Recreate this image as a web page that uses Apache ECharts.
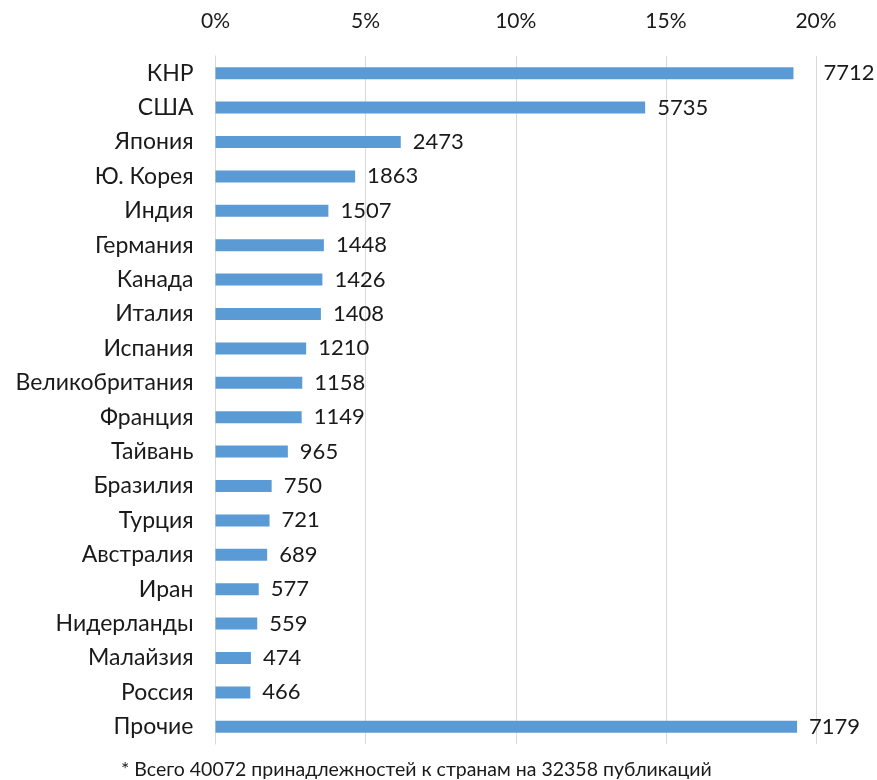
<!DOCTYPE html>
<html>
<head>
<meta charset="utf-8">
<script src="https://cdn.jsdelivr.net/npm/echarts@6/dist/echarts.min.js"></script>
<style>
  html, body { margin: 0; padding: 0; background: #ffffff; }
  #chart { width: 877px; height: 780px; }
</style>
</head>
<body>
<div id="chart"></div>
<script>
// Countries by number of affiliations (top to bottom)
const countries = ['КНР', 'США', 'Япония', 'Ю. Корея', 'Индия', 'Германия', 'Канада', 'Италия',
  'Испания', 'Великобритания', 'Франция', 'Тайвань', 'Бразилия', 'Турция', 'Австралия',
  'Иран', 'Нидерланды', 'Малайзия', 'Россия', 'Прочие'];
// Affiliation counts shown next to each bar
const counts = [7712, 5735, 2473, 1863, 1507, 1448, 1426, 1408, 1210, 1158, 1149, 965, 750, 721, 689,
  577, 559, 474, 466, 7179];
// Share of all affiliations, %
const shares = [19.25, 14.31, 6.17, 4.65, 3.76, 3.61, 3.56, 3.51, 3.02, 2.89, 2.87, 2.41, 1.87, 1.80, 1.72,
  1.44, 1.39, 1.18, 1.16, 19.37];
// Percent axis ticks
const axisMin = 0, axisMax = 20, axisStep = 5;
const footnote = '* Всего 40072 принадлежностей к странам на 32358 публикаций';

const FONT = 'Lato';
const TEXT = '#1a1a1a';

const chart = echarts.init(document.getElementById('chart'), null, { renderer: 'canvas' });

const barData = shares.map((v, i) => {
  const item = { value: v };
  // the first label sits past the 20% gridline
  if (i === 0) item.label = { distance: 30 };
  return item;
});

chart.setOption({
  animation: false,
  backgroundColor: '#ffffff',
  textStyle: { fontFamily: FONT },
  grid: { left: 215.5, right: 61, top: 56, bottom: 36, containLabel: false },
  xAxis: {
    type: 'value',
    position: 'top',
    min: axisMin,
    max: axisMax,
    interval: axisStep,
    axisLine: { show: false },
    axisTick: { show: false },
    splitLine: { show: true, lineStyle: { color: '#d9d9d9', width: 1 } },
    axisLabel: {
      formatter: v => v + '%',
      fontSize: 21,
      color: TEXT,
      fontFamily: FONT,
      margin: 24
    }
  },
  yAxis: {
    type: 'category',
    data: countries,
    inverse: true,
    axisLine: { show: true, lineStyle: { color: '#d9d9d9', width: 1 } },
    axisTick: { show: false },
    axisLabel: { fontSize: 23, color: TEXT, fontFamily: FONT, margin: 22 }
  },
  series: [{
    type: 'bar',
    data: barData,
    barWidth: 12,
    itemStyle: { color: '#5b9bd5' },
    label: {
      show: true,
      position: 'right',
      distance: 12,
      fontSize: 22,
      color: TEXT,
      fontFamily: FONT,
      formatter: p => String(counts[p.dataIndex])
    }
  }],
  graphic: [{
    type: 'text',
    left: 121,
    top: 760,
    style: { text: footnote, fontSize: 19.5, fill: TEXT, fontFamily: FONT }
  }]
});
</script>
</body>
</html>
